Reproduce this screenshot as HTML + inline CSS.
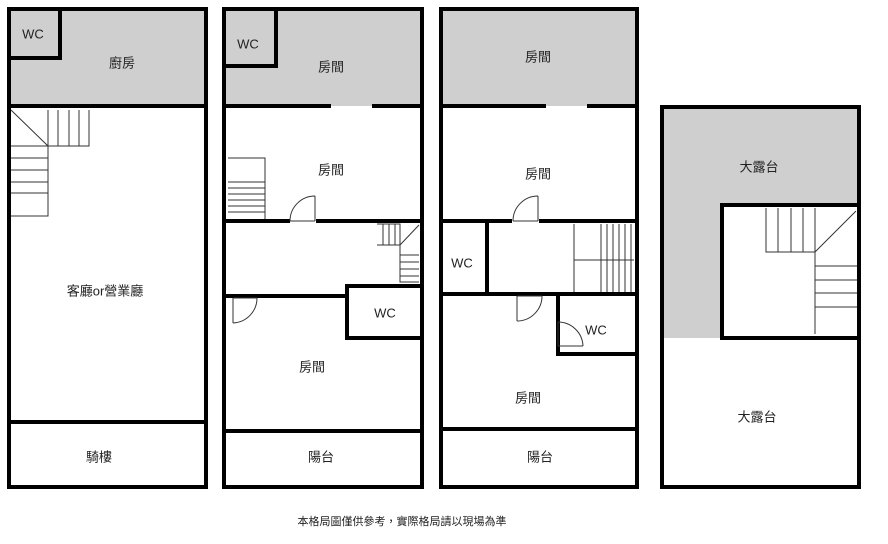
<!DOCTYPE html><html><head><meta charset="utf-8"><style>body{margin:0;background:#fff}svg{display:block}text{font-family:"Liberation Sans","Noto Sans CJK TC",sans-serif;font-size:13px;fill:#222;text-anchor:middle;dominant-baseline:middle}</style></head><body>
<svg width="888" height="544" viewBox="0 0 888 544">
<g fill="#cfcfcf">
<rect x="9" y="9" width="197" height="97"/>
<rect x="224" y="9" width="198" height="97"/>
<rect x="441" y="9" width="196" height="97"/>
<path d="M662 107H859V205H722V338H662Z"/>
</g>
<g fill="none" stroke="#000" stroke-width="4">
<rect x="9" y="9" width="197" height="478"/>
<rect x="224" y="9" width="198" height="478"/>
<rect x="441" y="9" width="196" height="478"/>
<rect x="662" y="107" width="197" height="380"/>
</g>
<g fill="#000">
<rect x="58" y="9" width="4" height="51"/><rect x="9" y="56" width="53" height="4"/>
<rect x="9" y="104" width="197" height="4"/>
<rect x="9" y="420" width="197" height="4"/>
<rect x="274" y="11" width="4" height="57"/><rect x="224" y="64" width="54" height="4"/>
<rect x="224" y="104" width="107" height="4"/><rect x="372" y="104" width="50" height="4"/>
<rect x="224" y="219" width="66" height="4"/><rect x="316" y="219" width="106" height="4"/>
<rect x="224" y="294" width="123" height="4"/>
<rect x="345" y="284" width="77" height="4"/><rect x="345" y="284" width="4" height="56"/><rect x="345" y="336" width="77" height="4"/>
<rect x="224" y="429" width="198" height="4"/>
<rect x="441" y="104" width="105" height="4"/><rect x="587" y="104" width="50" height="4"/>
<rect x="441" y="219" width="71" height="4"/><rect x="539" y="219" width="98" height="4"/>
<rect x="485" y="221" width="4" height="74"/>
<rect x="441" y="292" width="196" height="4"/>
<rect x="556" y="294" width="4" height="62"/><rect x="556" y="352" width="81" height="4"/>
<rect x="441" y="427" width="196" height="4"/>
<rect x="720" y="203" width="4" height="137"/><rect x="720" y="203" width="139" height="4"/><rect x="720" y="336" width="139" height="4"/>
</g>
<g fill="none" stroke="#333" stroke-width="1">
<path d="M11 110L48 146M48 110V216H11M58 110V146M69 110V146M79 110V146M89 110V146H48M11 146H48M11 158H48M11 170H48M11 182H48M11 193H48"/>
<path d="M228 158H265V219M228 182H265M228 188H265M228 194H265M228 200H265M228 206H265M228 212H265"/>
<path d="M377 224H400V282H419M383 224V245M389 224V245M395 224V245M377 245H400L419 225M400 255H419M400 262H419M400 269H419M400 276H419"/>
<path d="M315 196V221M315 196A25 25 0 0 0 290 221M290 221H315"/>
<path d="M233 298V323M257 298A25 25 0 0 1 233 323M233 298H257"/>
<path d="M574 224V292M574 260H634M601 224V292M607 224V292M613 224V292M619 224V292M625 224V292M631 224V292"/>
<path d="M538 196V221M538 196A25 25 0 0 0 513 221M513 221H538"/>
<path d="M517 296V321M542 296A25 25 0 0 1 517 321M517 296H542"/>
<path d="M558 322V346M558 322A25 25 0 0 1 583 346M558 346H583"/>
<path d="M766 208V252H815M778 208V252M791 208V252M803 208V252M815 208V334M815 252L856 211M815 266H857M815 280H857M815 293H857M815 307H857"/>
</g>
<text x="33" y="35">WC</text><text x="122" y="64">廚房</text><text x="105" y="292">客廳or營業廳</text><text x="99" y="458">騎樓</text>
<text x="248" y="45">WC</text><text x="331" y="68">房間</text><text x="331" y="171">房間</text><text x="385" y="314">WC</text><text x="312" y="368">房間</text><text x="321" y="458">陽台</text>
<text x="538" y="58">房間</text><text x="538" y="175">房間</text><text x="462" y="264">WC</text><text x="596" y="331">WC</text><text x="528" y="399">房間</text><text x="540" y="458">陽台</text>
<text x="759" y="168">大露台</text><text x="757" y="418">大露台</text>
<text x="402" y="522" style="font-size:11px">本格局圖僅供參考，實際格局請以現場為準</text>
</svg></body></html>
